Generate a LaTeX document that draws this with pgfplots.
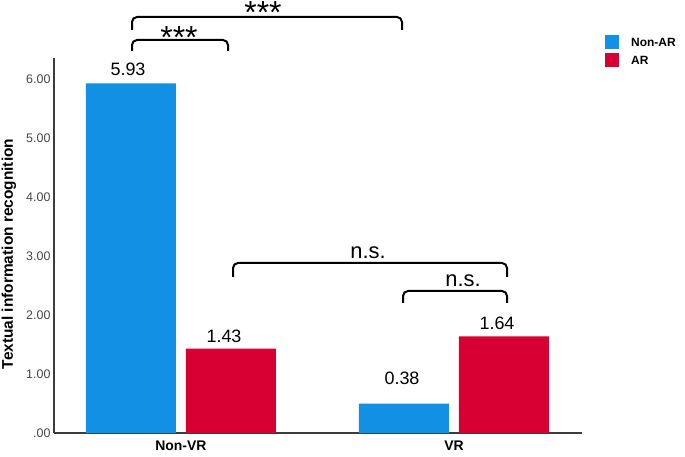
\documentclass[border=0pt]{standalone}
\usepackage{pgfplots}
\pgfplotsset{compat=1.18}
\usepackage{fontspec}
\setmainfont{Liberation Sans}
\definecolor{cblue}{RGB}{18,145,228}
\definecolor{cred}{RGB}{214,0,50}
\definecolor{axgray}{RGB}{60,60,60}
\definecolor{tickgray}{RGB}{70,70,70}
\begin{document}
\begin{tikzpicture}[x=1bp,y=1bp]
\begin{axis}[
  at={(54bp,24bp)},
  scale only axis, width=528bp, height=375bp,
  anchor=south west,
  xmin=-0.465, xmax=1.469, ymin=0, ymax=6.36,
  ybar=10bp, bar width=90bp,
  axis x line*=bottom, axis y line*=left,
  axis line style={-, axgray, line width=1.4bp},
  xtick={0,1}, xticklabels={Non-VR,VR},
  xticklabel style={font=\fontsize{14}{16}\selectfont\bfseries, text=black, yshift=-7bp, inner sep=1bp},
  ytick={0,1,2,3,4,5,6},
  yticklabels={.00,1.00,2.00,3.00,4.00,5.00,6.00},
  yticklabel style={font=\fontsize{12.5}{14}\selectfont, text=tickgray},
  major tick length=0pt,
  clip=false,
]
\addplot[fill=cblue, draw=none] coordinates {(0,5.93) (1,0.50)};
\addplot[fill=cred, draw=none] coordinates {(0,1.43) (1,1.64)};
\end{axis}
\node[rotate=90, font=\fontsize{15.5}{17}\selectfont\bfseries] at (9bp,203bp) {Textual information recognition};
% value labels
\begin{scope}[font=\fontsize{18}{20}\selectfont]
\node at (128bp,{(457-69)*1bp}) {5.93};
\node at (224bp,{(457-336)*1bp}) {1.43};
\node at (402bp,{(457-378)*1bp}) {0.38};
\node at (497bp,{(457-323)*1bp}) {1.64};
\end{scope}
% brackets
\begin{scope}[line width=2bp, rounded corners=5bp]
\draw (132bp,427bp) -- (132bp,440bp) -- (402bp,440bp) -- (402bp,427bp);
\draw (132bp,406bp) -- (132bp,417bp) -- (228bp,417bp) -- (228bp,406bp);
\draw (233bp,180bp) -- (233bp,194bp) -- (507bp,194bp) -- (507bp,180bp);
\draw (403bp,154bp) -- (403bp,166bp) -- (507bp,166bp) -- (507bp,154bp);
\end{scope}
\begin{scope}[font=\fontsize{32}{32}\selectfont]
\node[anchor=base, inner sep=0pt] at (263bp,433bp) {***};
\node[anchor=base, inner sep=0pt] at (179bp,408bp) {***};
\end{scope}
\begin{scope}[font=\fontsize{22}{24}\selectfont]
\node[anchor=base] at (368bp,198bp) {n.s.};
\node[anchor=base] at (463bp,170bp) {n.s.};
\end{scope}
% legend
\fill[cblue] (605bp,408bp) rectangle (619bp,422bp);
\fill[cred] (605bp,390bp) rectangle (619bp,404bp);
\node[anchor=west, font=\fontsize{12}{14}\selectfont\bfseries, inner sep=0pt] at (631bp,415bp) {Non-AR};
\node[anchor=west, font=\fontsize{12}{14}\selectfont\bfseries, inner sep=0pt] at (631bp,397bp) {AR};
\pgfresetboundingbox
\path (0,0) rectangle (685bp,457bp);
\end{tikzpicture}
\end{document}
